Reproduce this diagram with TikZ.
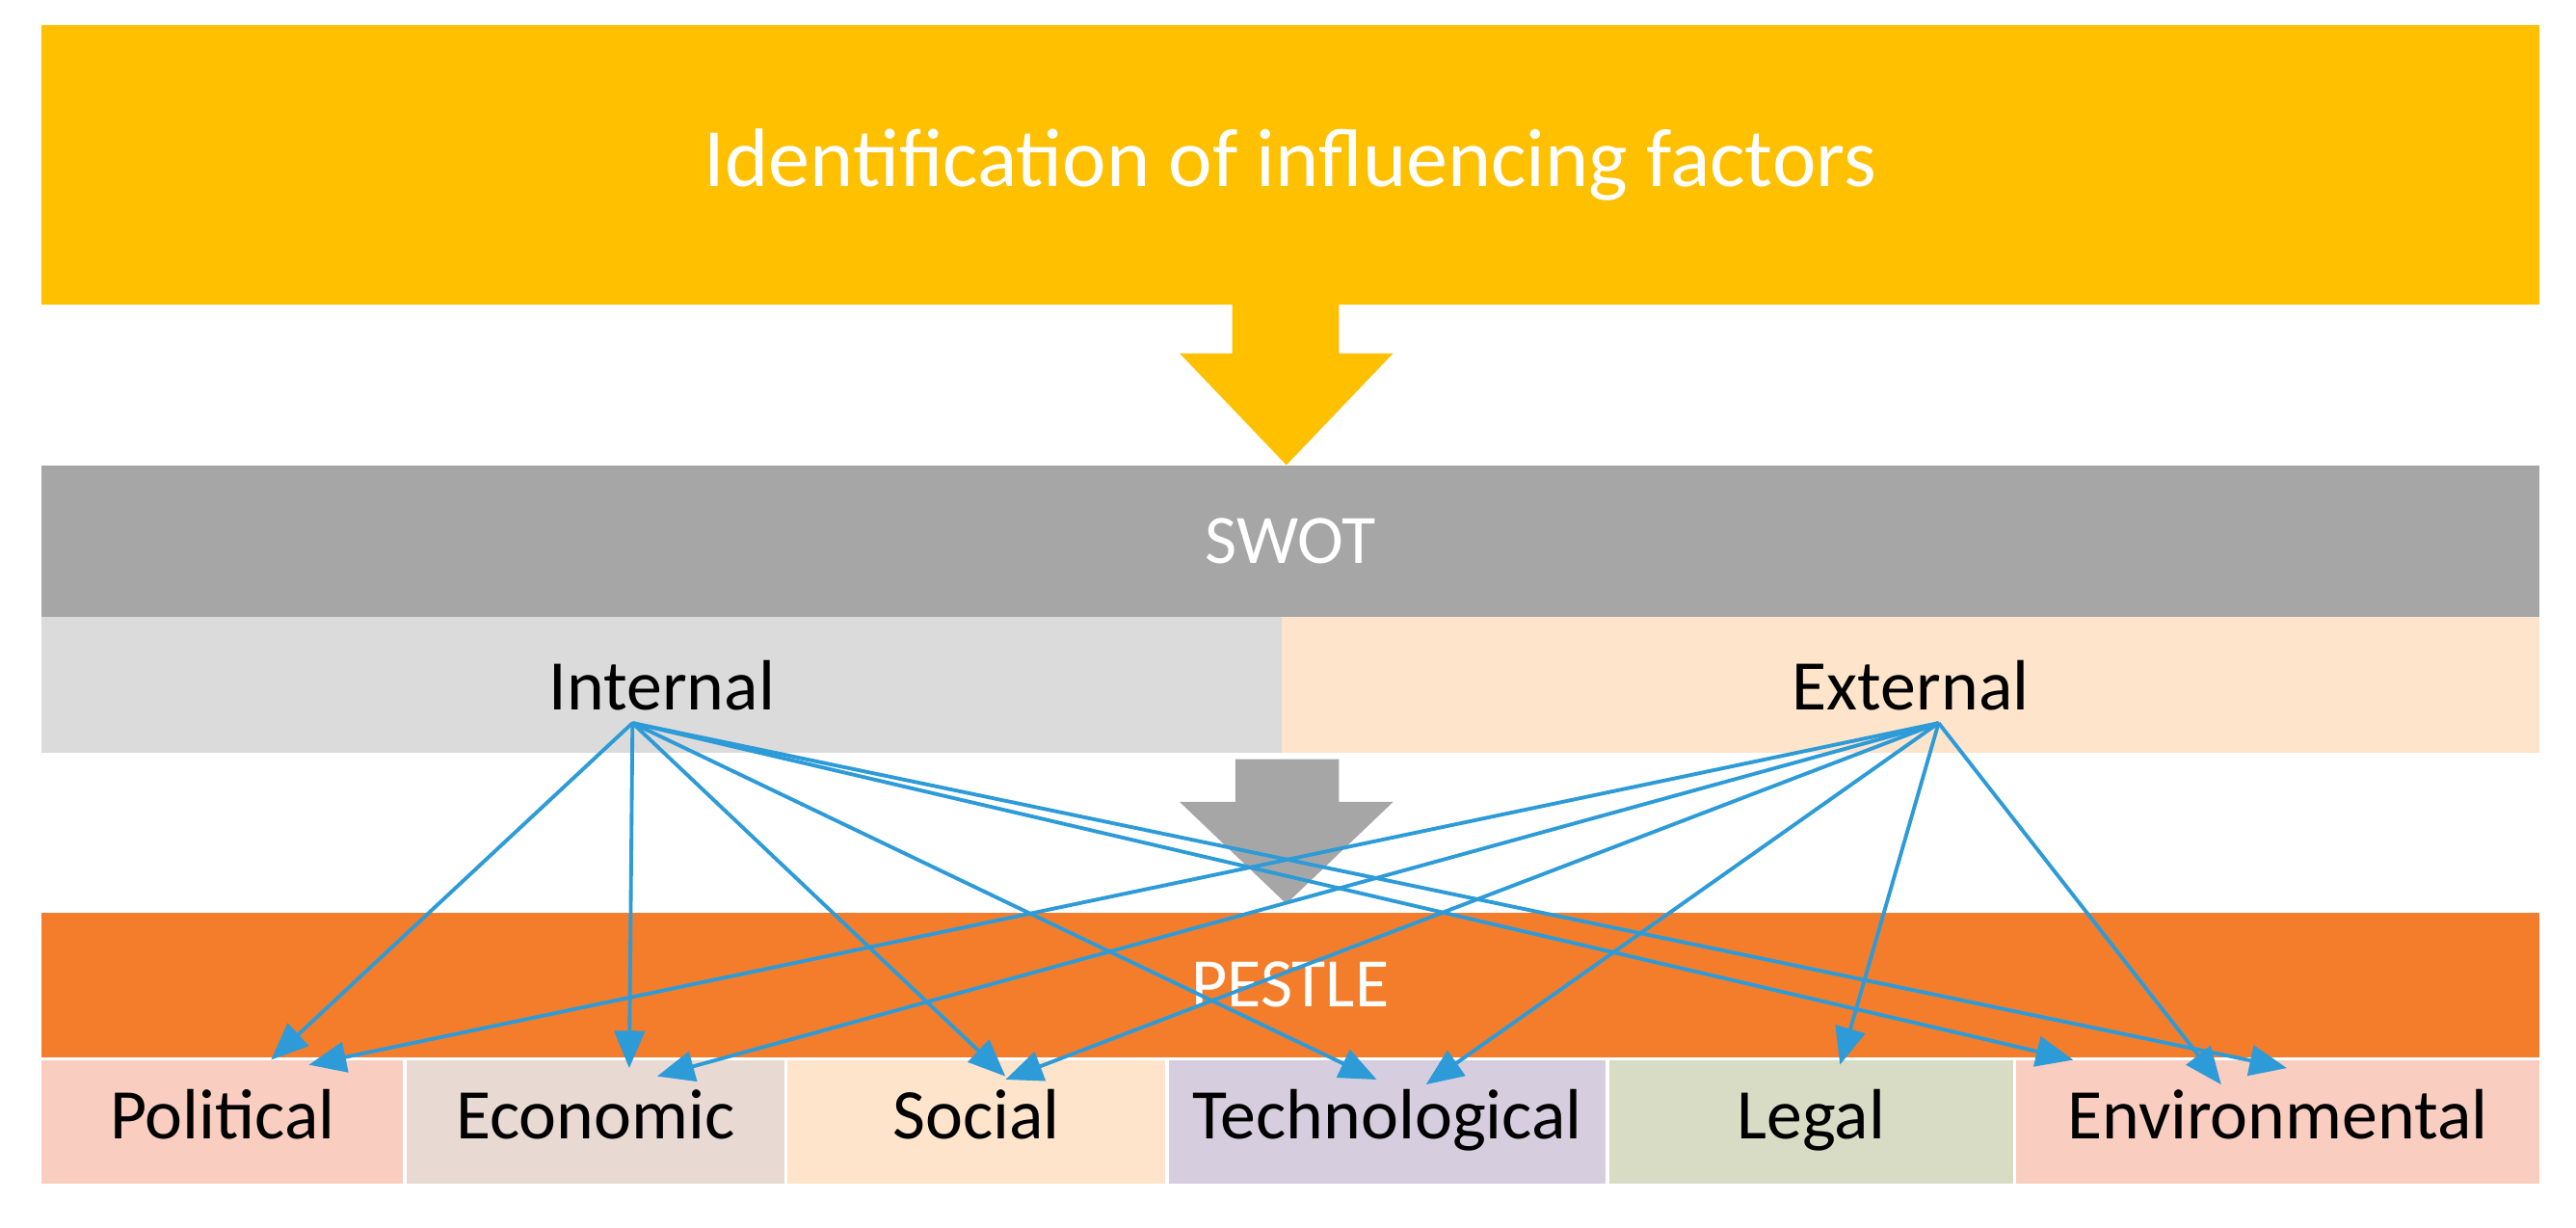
\documentclass[tikz,border=0pt]{standalone}
\usepackage{fontspec}
\setmainfont{Carlito}
\usepackage{tikz}
\usetikzlibrary{arrows.meta}
\definecolor{goldbar}{HTML}{FFC000}
\definecolor{greybar}{HTML}{A6A6A6}
\definecolor{orangebar}{HTML}{F47D2B}
\definecolor{intfill}{HTML}{DBDBDB}
\definecolor{extfill}{HTML}{FDE4CB}
\definecolor{polfill}{HTML}{F9CDBF}
\definecolor{ecofill}{HTML}{E8DAD2}
\definecolor{tecfill}{HTML}{D6CEDE}
\definecolor{legfill}{HTML}{D9DCC4}
\definecolor{linkblue}{HTML}{2D9BD8}
\tikzstyle{band}=[draw=none,inner sep=0pt,anchor=north west]
\tikzstyle{factor}=[band,font=\fontsize{21}{24}\selectfont,text=black,text height=15pt,text depth=5pt]
\tikzstyle{link}=[draw=linkblue,line width=1.1pt,-{Triangle[length=11pt,width=9pt]}]
\begin{document}
\begin{tikzpicture}[x=0.01705cm,y=-0.01705cm]
      \useasboundingbox (0,0) rectangle (1568,747);
      \fill[white] (0,0) rectangle (1568,747);
      \node[band,fill=goldbar,minimum width=1520*0.01705cm,minimum height=170*0.01705cm,text=white,font=\fontsize{24.5}{28}\selectfont] (ident) at (25,15) {Identification of influencing factors};
      \fill[goldbar] (750,185) -- (815,185) -- (815,215) -- (848,215) -- (783,283) -- (718,215) -- (750,215) -- cycle;
      \node[band,fill=greybar,minimum width=1520*0.01705cm,minimum height=92*0.01705cm,text=white,font=\fontsize{20.5}{24}\selectfont] (swot) at (25,283) {SWOT};
      \node[band,fill=intfill,minimum width=755*0.01705cm,minimum height=83*0.01705cm,font=\fontsize{21}{24}\selectfont] (internal) at (25,375) {Internal};
      \node[band,fill=extfill,minimum width=765*0.01705cm,minimum height=83*0.01705cm,font=\fontsize{21}{24}\selectfont] (external) at (780,375) {External};
      \fill[greybar] (752,462) -- (815,462) -- (815,488) -- (848,488) -- (783,550) -- (718,488) -- (752,488) -- cycle;
      \node[band,fill=orangebar,minimum width=1520*0.01705cm,minimum height=88*0.01705cm,text=white,font=\fontsize{20.5}{24}\selectfont] (pestle) at (25,555) {PESTLE};
      \node[factor,fill=polfill,minimum width=220*0.01705cm,minimum height=75*0.01705cm] (political) at (25,645) {Political};
      \node[factor,fill=ecofill,minimum width=230*0.01705cm,minimum height=75*0.01705cm] (economic) at (247,645) {Economic};
      \node[factor,fill=extfill,minimum width=230*0.01705cm,minimum height=75*0.01705cm] (social) at (479,645) {Social};
      \node[factor,fill=tecfill,minimum width=266*0.01705cm,minimum height=75*0.01705cm] (technological) at (711,645) {Technological};
      \node[factor,fill=legfill,minimum width=246*0.01705cm,minimum height=75*0.01705cm] (legal) at (979,645) {Legal};
      \node[factor,fill=polfill,minimum width=318*0.01705cm,minimum height=75*0.01705cm] (environmental) at (1227,645) {Environmental};
      \coordinate (in) at (385,440);
      \coordinate (ex) at (1180,440);
      \foreach \tx/\ty in {165/645,383/650,612/655,838/657,1262/645,1392/650}
        \draw[link] (in) -- (\tx,\ty);
      \foreach \tx/\ty in {188/648,400/655,612/657,868/660,1120/648,1352/660}
        \draw[link] (ex) -- (\tx,\ty);
    \end{tikzpicture}
\end{document}
